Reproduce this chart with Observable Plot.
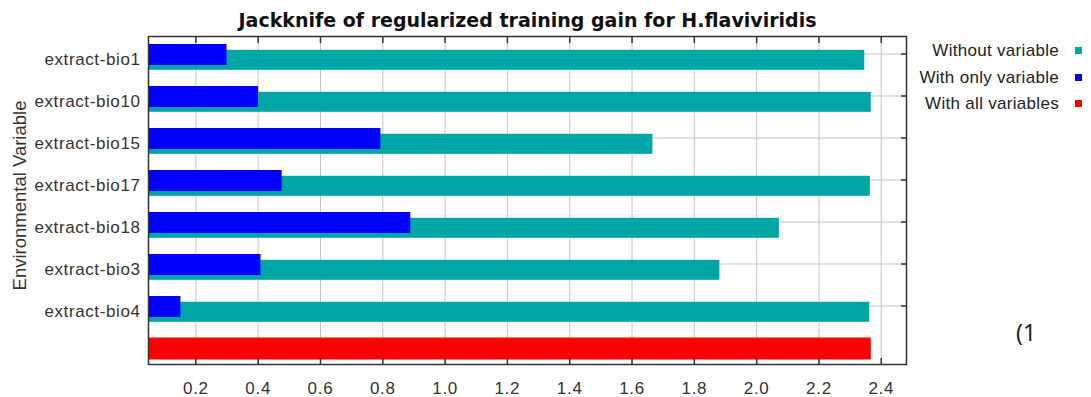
<!DOCTYPE html>
<html><head><meta charset="utf-8">
<script src="https://cdn.jsdelivr.net/npm/d3@7"></script>
<script src="https://cdn.jsdelivr.net/npm/@observablehq/plot@0.6"></script>
<style>
body{margin:0;background:#fff;}
#wrap{position:relative;width:1091px;height:397px;font-family:"Liberation Sans",Arial,sans-serif;overflow:hidden;}
.leg{position:absolute;right:32px;font-size:17px;letter-spacing:0.3px;color:#222;line-height:20px;white-space:nowrap;}
.sw{position:absolute;left:1075px;width:7px;height:7px;}
#note{position:absolute;left:1016px;top:316px;font-family:"Noto Sans",sans-serif;font-size:23px;color:#222;}
g[aria-label="y-axis tick label"] text{letter-spacing:0.6px;}
g[aria-label="x-axis tick label"] text{letter-spacing:0.7px;}
</style></head><body><div id="wrap"></div>
<script>
const title = "Jackknife of regularized training gain for H.flaviviridis";
const yLabel = "Environmental Variable";
const variables = ["extract-bio1","extract-bio10","extract-bio15","extract-bio17","extract-bio18","extract-bio3","extract-bio4"];
const withoutVariable = [2.347, 2.368, 1.667, 2.365, 2.073, 1.882, 2.363];
const withOnlyVariable = [0.300, 0.401, 0.794, 0.477, 0.890, 0.409, 0.152];
const withAllVariables = 2.368;
const allRow = "(all)";
const xTicks = [0.2,0.4,0.6,0.8,1.0,1.2,1.4,1.6,1.8,2.0,2.2,2.4];
const legendLabels = ["Without variable","With only variable","With all variables"];
const colors = ["#00a6a6","#0000ff","#ff0000"];

const rowsWithout = variables.map((v,i)=>({variable:v, value:withoutVariable[i]}));
const rowsOnly = variables.map((v,i)=>({variable:v, value:withOnlyVariable[i]}));
const rowsAll = [{variable:allRow, value:withAllVariables}];

const chart = Plot.plot({
  width:1091, height:397,
  marginTop:36, marginBottom:33, marginLeft:148, marginRight:185,
  style:{fontFamily:"'Liberation Sans', Arial, sans-serif", background:"#fff"},
  x:{domain:[0.048,2.481], label:null},
  y:{domain:[...variables, allRow], paddingInner:0.5, paddingOuter:0.1325, label:null},
  marks:[
    Plot.gridX(xTicks, {stroke:"#c4c4c4", strokeOpacity:1, strokeWidth:1}),
    Plot.gridY(variables, {stroke:"#c4c4c4", strokeOpacity:1, strokeWidth:1}),
    Plot.barX(rowsWithout, {y:"variable", x1:0, x2:"value", fill:colors[0], insetTop:0.5, insetBottom:0.5, dy:6.3, clip:true}),
    Plot.barX(rowsOnly, {y:"variable", x1:0, x2:"value", fill:colors[1], dy:1, clip:true}),
    Plot.barX(rowsAll, {y:"variable", x1:0, x2:"value", fill:colors[2], insetTop:-0.5, insetBottom:-0.5, dy:1, clip:true}),
    Plot.frame({stroke:"#333", strokeWidth:1.5}),
    Plot.axisX(xTicks, {anchor:"bottom", tickSize:0, tickPadding:17, tickFormat:d=>d.toFixed(1), fontSize:17, fill:"#333"}),
    Plot.axisX(xTicks, {anchor:"bottom", tickSize:6, dy:-6, tickFormat:()=>"", stroke:"#333", strokeWidth:1.5}),
    Plot.axisX(xTicks, {anchor:"top", tickSize:6, dy:6, tickFormat:()=>"", stroke:"#333", strokeWidth:1.5}),
    Plot.axisY(variables, {anchor:"left", tickSize:0, tickPadding:8, dy:6, fontSize:17, fill:"#333"}),
    Plot.axisY(variables, {anchor:"right", tickSize:6, dx:-6, tickFormat:()=>"", stroke:"#333", strokeWidth:1.5}),
    Plot.text([title], {text:d=>d, frameAnchor:"top", lineAnchor:"middle", dy:-16, fontSize:19, fontWeight:"bold", fontFamily:"'DejaVu Sans', sans-serif", fill:"#111"}),
    Plot.text([yLabel], {text:d=>d, frameAnchor:"left", textAnchor:"middle", rotate:-90, dx:-128, dy:-5, fontSize:18.5, fill:"#333"})
  ]
});
const wrap = document.getElementById("wrap");
wrap.appendChild(chart);
const legendY = [51, 78, 104];
legendLabels.forEach((lab,i)=>{
  const t = document.createElement("div");
  t.className="leg"; t.textContent=lab; t.style.top=(legendY[i]-10)+"px";
  wrap.appendChild(t);
  const s = document.createElement("div");
  s.className="sw"; s.style.background=colors[i]; s.style.top=(legendY[i]-4)+"px";
  wrap.appendChild(s);
});
const note = document.createElement("div");
note.id="note"; note.textContent="(1";
wrap.appendChild(note);
</script></body></html>
